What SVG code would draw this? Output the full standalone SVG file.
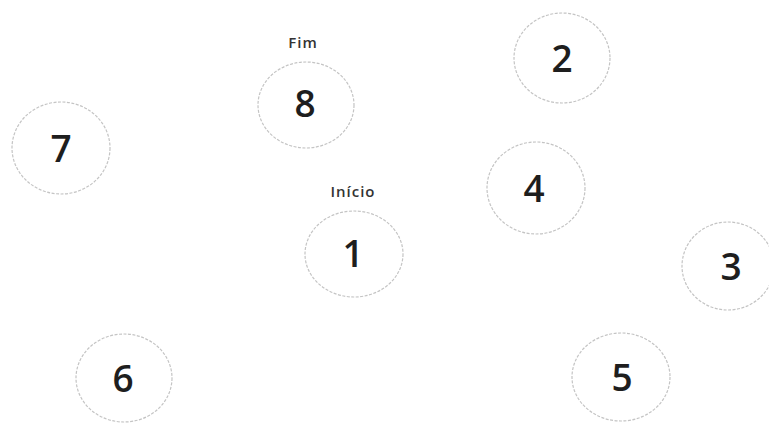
<svg xmlns="http://www.w3.org/2000/svg" width="769" height="423" viewBox="0 0 769 423">
<style>
.n ellipse{fill:#fff;stroke:#c4c4c4;stroke-width:1.2;stroke-dasharray:3 1.5}
.n text.d{font-family:"Open Sans","Noto Sans",sans-serif;font-size:37px;font-weight:600;fill:#1e1e1e;text-anchor:middle}
.l{font-family:"Open Sans","Noto Sans",sans-serif;font-size:15px;font-weight:600;fill:#333;text-anchor:middle;letter-spacing:1px}
</style>
<rect width="769" height="423" fill="#fff"/>
<g id="connectors"></g>
<g id="node1" class="n"><ellipse cx="354" cy="254" rx="49" ry="43"/><text class="d" x="353" y="267">1</text><text class="l" x="353" y="197">Início</text></g>
<g id="node2" class="n"><ellipse cx="562" cy="58" rx="48" ry="45"/><text class="d" x="562" y="72">2</text></g>
<g id="node3" class="n"><ellipse cx="728" cy="266" rx="46" ry="44"/><text class="d" x="731" y="280">3</text></g>
<g id="node4" class="n"><ellipse cx="536" cy="188" rx="49" ry="46"/><text class="d" x="534" y="202">4</text></g>
<g id="node5" class="n"><ellipse cx="621" cy="377" rx="49" ry="44"/><text class="d" x="622" y="391">5</text></g>
<g id="node6" class="n"><ellipse cx="124" cy="378" rx="48" ry="44"/><text class="d" x="123" y="392">6</text></g>
<g id="node7" class="n"><ellipse cx="61" cy="148" rx="49" ry="46"/><text class="d" x="61" y="162">7</text></g>
<g id="node8" class="n"><ellipse cx="306" cy="105" rx="48" ry="43"/><text class="d" x="305" y="117">8</text><text class="l" x="303" y="48">Fim</text></g>
</svg>
